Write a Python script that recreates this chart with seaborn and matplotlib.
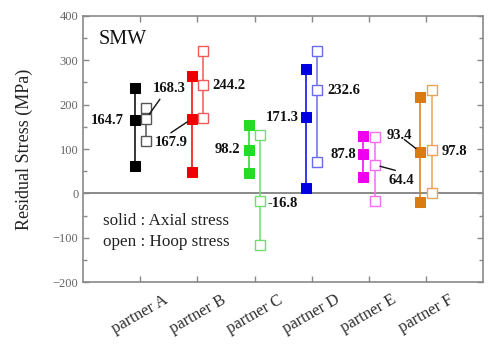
import numpy as np
import pandas as pd
import matplotlib
matplotlib.use("Agg")
import matplotlib.pyplot as plt
import seaborn as sns

# Residual stress (MPa) per partner: max / representative / min
partners = ["partner A", "partner B", "partner C", "partner D", "partner E", "partner F"]
axial_max = [238, 265, 154, 280, 130, 217]
axial_mid = [164.7, 167.9, 98.2, 171.3, 87.8, 93.4]
axial_min = [62, 48, 46, 13, 38, -19]
hoop_max = [192, 322, 132, 321, 128, 233]
hoop_mid = [168.3, 244.2, -16.8, 232.6, 64.4, 97.8]
hoop_min = [119, 171, -117, 70, -17, 2]

solid_colors = ["#000000", "#ee0000", "#22dd22", "#0000e0", "#ee00ee", "#d97b10"]
open_colors = ["#555555", "#ee5a5a", "#6ede6e", "#6a6aee", "#ee70ee", "#e8a458"]

rows = []
for i, p in enumerate(partners):
    for kind, vals, off in (("Axial", (axial_max, axial_mid, axial_min), -0.1),
                            ("Hoop", (hoop_max, hoop_mid, hoop_min), 0.1)):
        for lvl, arr in zip(("max", "mid", "min"), vals):
            rows.append(dict(partner=p, idx=i, kind=kind, level=lvl,
                             x=i + 1 + off, value=arr[i]))
df = pd.DataFrame(rows)

sns.set_style("ticks")
plt.rcParams["font.family"] = ["Liberation Serif", "DejaVu Serif"]

fig = plt.figure(figsize=(4.92, 3.47), dpi=100)
ax = fig.add_axes([0.169, 0.187, 0.813, 0.767])

ax.axhline(0, color="#8a8a8a", lw=1.4, zorder=1)

for i, p in enumerate(partners):
    for kind in ("Axial", "Hoop"):
        sub = df[(df.partner == p) & (df.kind == kind)]
        if kind == "Axial":
            sns.lineplot(data=sub, x="x", y="value", estimator=None, sort=False,
                         color=solid_colors[i], lw=1.1, marker="s", markersize=7,
                         markerfacecolor=solid_colors[i],
                         markeredgecolor=solid_colors[i], ax=ax, zorder=3)
        else:
            sns.lineplot(data=sub, x="x", y="value", estimator=None, sort=False,
                         color=open_colors[i], lw=1.1, marker="s", markersize=7.5,
                         markerfacecolor="white", markeredgewidth=1.0,
                         markeredgecolor=open_colors[i], ax=ax, zorder=3)

# value labels: (series, partner index, text offset in points, leader end offset)
labels = [
    ("Axial", 0, (-8, 0), None),
    ("Hoop", 0, (17, 22), (10, 14)),
    ("Axial", 1, (-15, -17), (-15, -10)),
    ("Hoop", 1, (7, 0), None),
    ("Axial", 2, (-6, 0), None),
    ("Hoop", 2, (5, -2), None),
    ("Axial", 3, (-5, 0), None),
    ("Hoop", 3, (7, 0), None),
    ("Axial", 4, (-5, 0), None),
    ("Hoop", 4, (19, -11), (15, -4)),
    ("Axial", 5, (-15, 12), (-11.5, 9)),
    ("Hoop", 5, (7, -1), None),
]
for kind, i, (dx, dy), leader in labels:
    val = (axial_mid if kind == "Axial" else hoop_mid)[i]
    xpos = i + 1 + (-0.1 if kind == "Axial" else 0.1)
    if leader is not None:
        ha = "center"
        ax.annotate("", xy=(xpos, val), xytext=leader,
                    textcoords="offset points",
                    arrowprops=dict(arrowstyle="-", color="#111111", lw=1.0,
                                    shrinkA=0, shrinkB=4), zorder=4)
    else:
        ha = "right" if dx < 0 else "left"
    ax.annotate(f"{val:.1f}", xy=(xpos, val), xytext=(dx, dy),
                textcoords="offset points", ha=ha, va="center",
                fontsize=10.5, fontweight="bold", color="#111111", zorder=4)

ax.text(0.27, 348, "SMW", fontsize=14.5, color="#111111", va="center")
ax.text(0.34, -62, "solid : Axial stress", fontsize=12.3, color="#222222", va="center")
ax.text(0.34, -110, "open : Hoop stress", fontsize=12.3, color="#222222", va="center")

ax.set_xlim(0, 7)
ax.set_ylim(-200, 400)
ax.set_xticks(range(1, 7))
ax.set_xticklabels(partners, rotation=30, ha="center", fontsize=12,
                   color="#333333")
ax.set_yticks(np.arange(-200, 401, 100))
ax.set_yticks(np.arange(-200, 401, 50), minor=True)
ax.tick_params(axis="y", labelsize=9, colors="#888888", labelcolor="#666666")
ax.tick_params(direction="in", top=True, right=True, length=4, width=1,
               color="#888888")
ax.tick_params(axis="y", which="minor", direction="in", right=True,
               length=3, width=1, color="#888888")
ax.tick_params(axis="x", pad=7)
ax.set_xlabel("")
ax.set_ylabel("Residual Stress (MPa)", fontsize=13, color="#222222", labelpad=14)
for s in ax.spines.values():
    s.set_visible(True)
    s.set_color("#8a8a8a")
    s.set_linewidth(1.2)

fig.savefig("out.png", dpi=100)
